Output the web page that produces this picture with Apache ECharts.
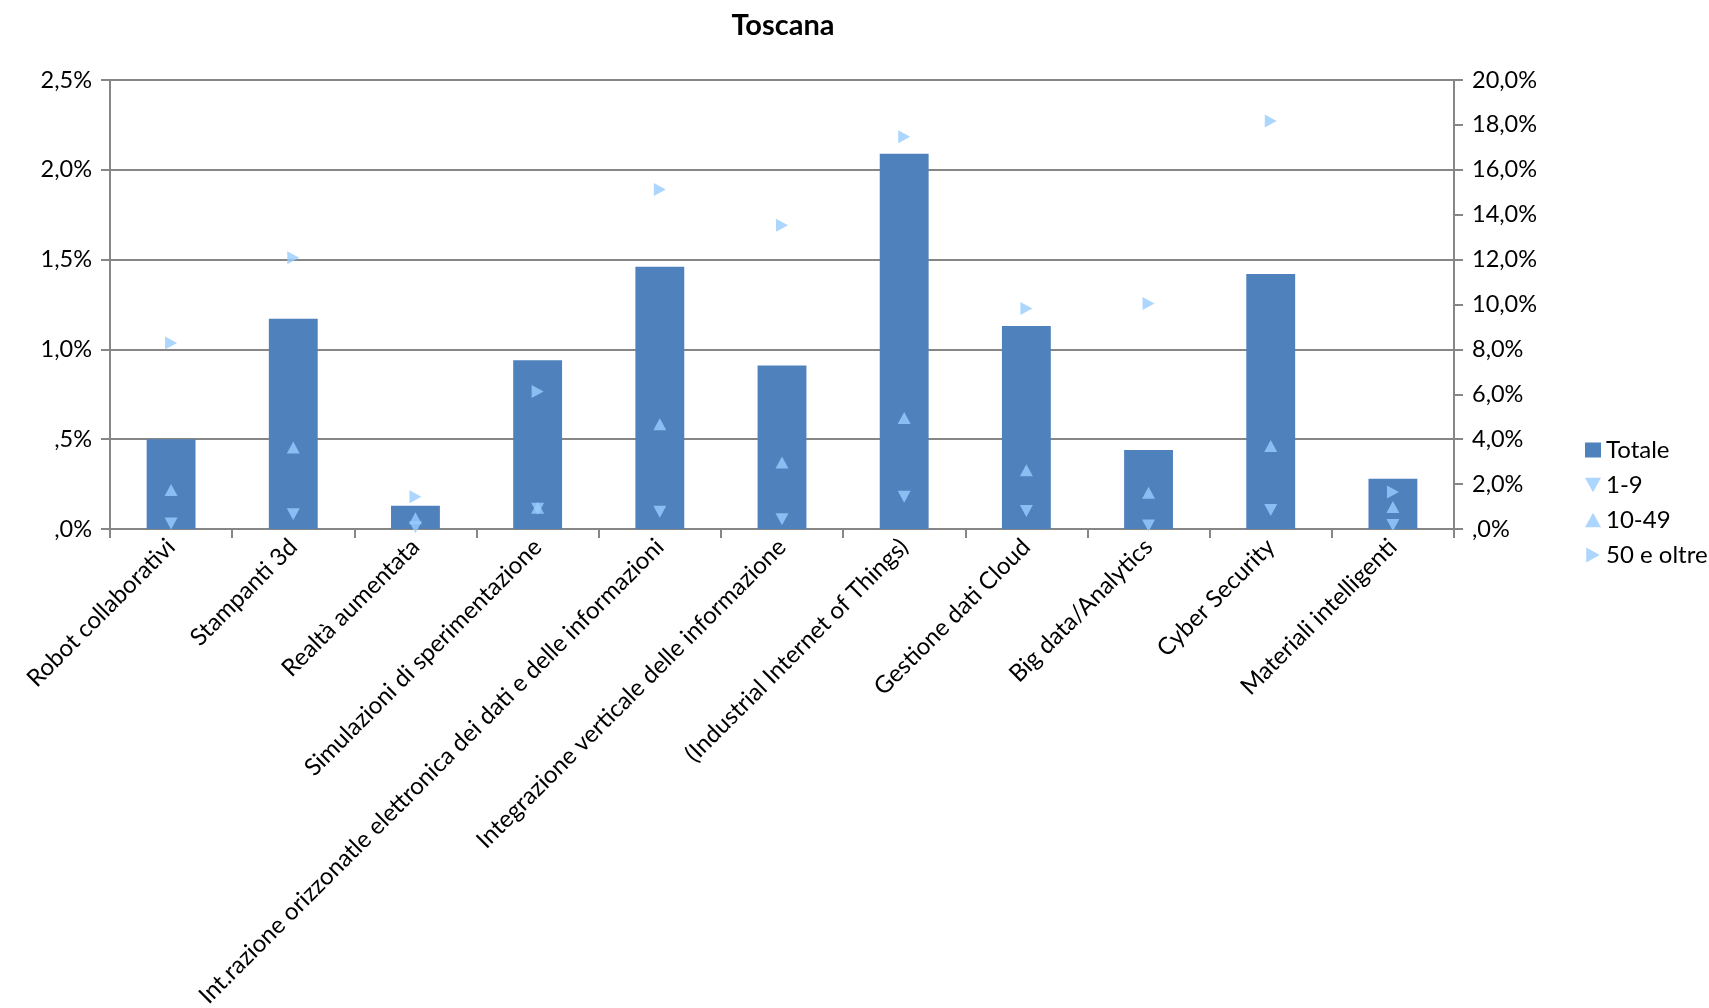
<!DOCTYPE html>
<html>
<head>
<meta charset="utf-8">
<script src="https://cdn.jsdelivr.net/npm/echarts@6/dist/echarts.min.js"></script>
<style>
html,body{margin:0;padding:0;background:#fff;}
#chart{width:1709px;height:1008px;}
</style>
</head>
<body>
<div id="chart"></div>
<script>
const categories = [
  "Robot collaborativi",
  "Stampanti 3d",
  "Realtà aumentata",
  "Simulazioni di sperimentazione",
  "Int.razione orizzonatle elettronica dei dati e delle informazioni",
  "Integrazione verticale delle informazione",
  "(Industrial Internet of Things)",
  "Gestione dati Cloud",
  "Big data/Analytics",
  "Cyber Security",
  "Materiali intelligenti"
];
// values in percent
const totale   = [0.50, 1.17, 0.13, 0.94, 1.46, 0.91, 2.09, 1.13, 0.44, 1.42, 0.28];
const size1_9  = [0.24, 0.66, 0.08, 0.90, 0.77, 0.43, 1.44, 0.80, 0.16, 0.85, 0.18];
const size10_49 = [1.74, 3.63, 0.48, 0.95, 4.67, 2.96, 4.94, 2.62, 1.62, 3.70, 0.98];
const size50 = [8.29, 12.08, 1.44, 6.12, 15.12, 13.53, 17.47, 9.82, 10.04, 18.17, 1.65];

const FONT = 'Lato';
const AXISC = '#868686';
const BAR = '#4F81BD';
const MARK = '#99CCFF';
const DOWN = 'path://M0,0L10,0L5,9Z';
const UP = 'path://M5,0L10,9L0,9Z';
const RIGHT = 'path://M0,0L9,5L0,10Z';

function fmt(v){
  let s = v.toFixed(1).replace('.', ',');
  if (s.startsWith('0,')) s = s.substring(1);
  return s + '%';
}

const chart = echarts.init(document.getElementById('chart'));
chart.setOption({
  animation: false,
  backgroundColor: '#fff',
  textStyle: {fontFamily: FONT, color: '#000'},
  title: {
    text: 'Toscana', left: 778, top: 6, textAlign: 'center',
    textStyle: {fontFamily: FONT, fontSize: 29, fontWeight: 'bold', color: '#000'}
  },
  legend: {
    orient: 'vertical', left: 1580, top: 433, itemGap: 11,
    itemWidth: 16, itemHeight: 15,
    textStyle: {fontFamily: FONT, fontSize: 24, color: '#000'},
    data: [
      {name: 'Totale', icon: 'rect'},
      {name: '1-9', icon: DOWN},
      {name: '10-49', icon: UP},
      {name: '50 e oltre', icon: RIGHT}
    ]
  },
  grid: {left: 110, right: 255, top: 80, bottom: 479, containLabel: false, outerBoundsMode: 'none'},
  xAxis: {
    type: 'category', data: categories,
    axisLine: {lineStyle: {color: AXISC, width: 2}},
    axisTick: {show: true, length: 9, lineStyle: {color: AXISC, width: 2}},
    axisLabel: {rotate: 45, interval: 0, margin: 14, fontFamily: FONT, fontSize: 24, color: '#000'}
  },
  yAxis: [
    {
      type: 'value', min: 0, max: 2.5, interval: 0.5,
      axisLine: {show: true, lineStyle: {color: AXISC, width: 2}},
      axisTick: {show: true, length: 9, lineStyle: {color: AXISC, width: 2}},
      splitLine: {show: true, lineStyle: {color: AXISC, width: 2}},
      axisLabel: {formatter: fmt, margin: 18, fontFamily: FONT, fontSize: 23.5, color: '#000'}
    },
    {
      type: 'value', min: 0, max: 20, interval: 2, position: 'right',
      axisLine: {show: true, lineStyle: {color: AXISC, width: 2}},
      axisTick: {show: true, length: 9, lineStyle: {color: AXISC, width: 2}},
      splitLine: {show: false},
      axisLabel: {formatter: fmt, margin: 18, fontFamily: FONT, fontSize: 23.5, color: '#000'}
    }
  ],
  series: [
    {name: 'Totale', type: 'bar', data: totale, yAxisIndex: 0, barWidth: '40%',
     itemStyle: {color: BAR}, z: 2},
    {name: '1-9', type: 'scatter', data: size1_9, yAxisIndex: 1, symbol: DOWN, symbolSize: [13, 12],
     itemStyle: {color: MARK}, z: 5},
    {name: '10-49', type: 'scatter', data: size10_49, yAxisIndex: 1, symbol: UP, symbolSize: [13, 12],
     itemStyle: {color: MARK}, z: 5},
    {name: '50 e oltre', type: 'scatter', data: size50, yAxisIndex: 1, symbol: RIGHT, symbolSize: [12, 13],
     itemStyle: {color: MARK}, z: 5}
  ]
});
</script>
</body>
</html>
